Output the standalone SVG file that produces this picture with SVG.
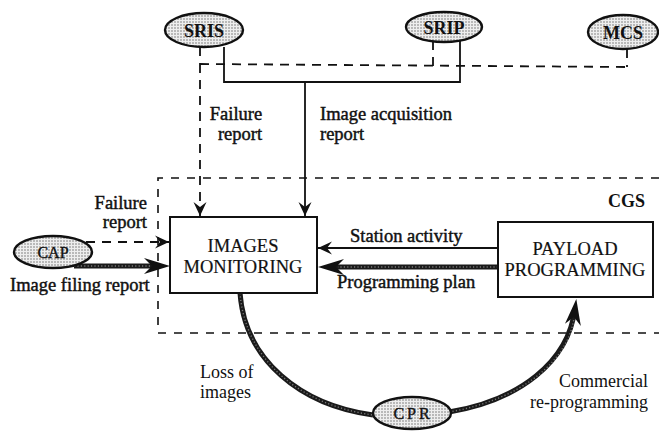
<svg xmlns="http://www.w3.org/2000/svg" width="659" height="431" viewBox="0 0 659 431">
<style>
text{font-family:"Liberation Serif","Times New Roman",serif;fill:#111}
.lbl{font-size:18.5px;stroke:#111;stroke-width:0.45}
.reg{font-size:18px}
.box{fill:#fff;stroke:#111;stroke-width:2}
.bt{font-size:18.5px;text-anchor:middle;stroke:#111;stroke-width:0.2}
.ell{fill:url(#dots);stroke:#111;stroke-width:2.4}
.et{font-size:18px;font-weight:bold;text-anchor:middle}
.st{font-size:16px;text-anchor:middle;stroke:#111;stroke-width:0.4}
.thin{fill:none;stroke:#111;stroke-width:1.8}
.dash{fill:none;stroke:#111;stroke-width:1.8;stroke-dasharray:9 7}
.cgs{fill:none;stroke:#111;stroke-width:1.6;stroke-dasharray:8 8}
.thick{fill:none;stroke:#1a1a1a;stroke-width:5}
.bead{fill:none;stroke:#777;stroke-width:1.4;stroke-dasharray:1.2 2.2}
</style>
<defs>
<pattern id="dots" width="3" height="3" patternUnits="userSpaceOnUse"><rect width="3" height="3" fill="#eeeeee"/><circle cx="1" cy="1" r="0.75" fill="#6a6a6a"/></pattern>
<marker id="ah" viewBox="-15 -7 16 14" refX="0" refY="0" markerWidth="16" markerHeight="14" markerUnits="userSpaceOnUse" orient="auto"><path d="M0,0 L-14,-6.5 L-9,0 L-14,6.5 Z" fill="#111"/></marker>
<marker id="ahT" viewBox="-27 -9 28 18" refX="-10" refY="0" markerWidth="28" markerHeight="18" markerUnits="userSpaceOnUse" orient="auto"><path d="M0,0 L-26,-8 L-18,0 L-26,8 Z" fill="#111"/></marker>
</defs>

<g id="cgs-boundary">
<path class="cgs" d="M659,178 L158,178 L158,333 L659,333"/>
<text x="645" y="207" text-anchor="end" style="font-size:18px;font-weight:bold">CGS</text>
</g>

<g id="connectors">
<path class="dash" d="M200,47 L200,64 M627,49 L627,67"/>
<path class="dash" d="M200,64 L627,67"/>
<path class="dash" d="M433,41 L433,66"/>
<path class="dash" d="M200,64 L200,216" marker-end="url(#ah)"/>
<path class="thin" d="M224,47 L224,82 L460,82 L460,41"/>
<path class="thin" d="M305,82 L305,216" marker-end="url(#ah)"/>
<path class="dash" d="M86,242 L169,242" marker-end="url(#ah)"/>
<path class="thick" d="M74,266 L160,266" marker-end="url(#ahT)"/>
<path class="bead" d="M74,266 L150,266"/>
<path class="thin" d="M498,248 L318,248" marker-end="url(#ah)"/>
<path class="thick" d="M498,267 L328,267" marker-end="url(#ahT)"/>
<path class="bead" d="M498,267 L338,267"/>
<path class="thick" d="M240,293 C245,360 300,405 373,415"/>
<path class="bead" d="M240,293 C245,360 300,405 373,415"/>
<path class="thick" d="M449,412 C520,400 568,362 575,309" marker-end="url(#ahT)"/>
<path class="bead" d="M449,412 C520,400 568,362 574,318"/>
</g>

<g id="labels">
<text class="lbl" x="236" y="120" text-anchor="middle">Failure</text>
<text class="lbl" x="240" y="140" text-anchor="middle">report</text>
<text class="lbl" x="320" y="120">Image acquisition</text>
<text class="lbl" x="320" y="140">report</text>
<text class="lbl" x="147" y="209" text-anchor="end">Failure</text>
<text class="lbl" x="147" y="228" text-anchor="end">report</text>
<text class="lbl" x="10" y="291">Image filing report</text>
<text class="lbl" x="350" y="242">Station activity</text>
<text class="lbl" x="337" y="288">Programming plan</text>
<text class="reg" x="200" y="378">Loss of</text>
<text class="reg" x="200" y="398">images</text>
<text class="reg" x="648" y="387" text-anchor="end">Commercial</text>
<text class="reg" x="648" y="408" text-anchor="end">re-programming</text>
</g>

<g id="SRIS"><ellipse class="ell" cx="204" cy="30" rx="39" ry="17"/><text class="et" x="204" y="37">SRIS</text></g>
<g id="SRIP"><ellipse class="ell" cx="444" cy="27" rx="38" ry="15"/><text class="et" x="444" y="34">SRIP</text></g>
<g id="MCS"><ellipse class="ell" cx="623" cy="32" rx="35" ry="17"/><text class="et" x="623" y="39">MCS</text></g>
<g id="CAP"><ellipse class="ell" cx="53" cy="252" rx="39" ry="16"/><text class="st" x="53" y="258">CAP</text></g>
<g id="CPR"><ellipse class="ell" cx="412" cy="413" rx="39" ry="16"/><text class="st" x="413" y="419" style="letter-spacing:3px">CPR</text></g>

<g id="images-monitoring"><rect class="box" x="170" y="217" width="147" height="76"/><text class="bt" x="243" y="252">IMAGES</text><text class="bt" x="243" y="273">MONITORING</text></g>
<g id="payload-programming"><rect class="box" x="498" y="222" width="155" height="75"/><text class="bt" x="575" y="255">PAYLOAD</text><text class="bt" x="575" y="276">PROGRAMMING</text></g>
</svg>
